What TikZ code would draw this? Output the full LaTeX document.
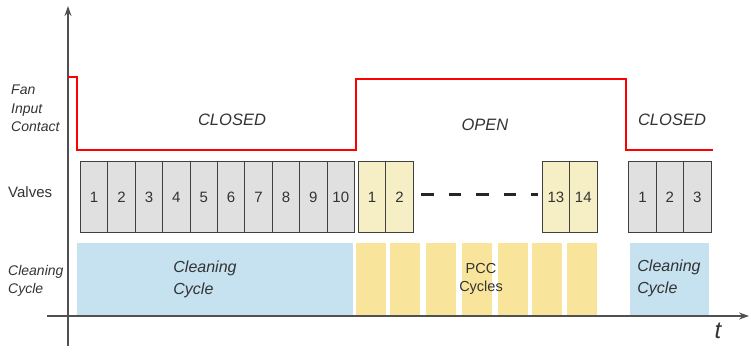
\documentclass[tikz,border=0pt]{standalone}
\usepackage{fontspec}
\setmainfont{Liberation Sans}
\usetikzlibrary{arrows.meta}
\definecolor{axisgray}{HTML}{505050}
\definecolor{textgray}{HTML}{333333}
\definecolor{valvegray}{HTML}{E0E0E0}
\definecolor{valveyellow}{HTML}{F6EFC6}
\definecolor{barblue}{HTML}{C6E2F0}
\definecolor{baryellow}{HTML}{F8E59B}
\definecolor{contactred}{HTML}{FF0000}

\begin{document}
\begin{tikzpicture}[x=1pt,y=-1pt,
  axis/.style={draw=axisgray,line width=1.6pt,-{Stealth[length=10pt,width=7pt]}},
  cell/.style={draw=black!75,line width=0.9pt,minimum width=27.4pt,minimum height=71pt,
    inner sep=0pt,anchor=north west,font=\fontsize{15}{16}\selectfont,text=textgray},
  bar/.style={fill=baryellow,minimum width=30pt,minimum height=72pt,inner sep=0pt,anchor=south west},
  cleanbox/.style={fill=barblue,minimum height=72pt,inner sep=0pt,anchor=south west,
    align=left,font=\fontsize{16}{22}\itshape,text=textgray},
  lbl/.style={inner sep=0pt,text=textgray,align=left,font=\fontsize{14}{18.5}\selectfont},
  state/.style={inner sep=0pt,text=textgray,font=\fontsize{16.5}{20}\itshape}]
\useasboundingbox (0,0) rectangle (749,346);

% cleaning cycle bars
\node[cleanbox,minimum width=276pt] (clean1) at (77,315) {};
\node[lbl,font=\fontsize{16}{22}\itshape] (cleantxt1) at (205,279.5) {Cleaning\\Cycle};
\foreach \x [count=\i] in {356,390,426,462,498,532,567}
  \node[bar] (pcc\i) at (\x,315) {};
\node[lbl,align=center,font=\fontsize{14.5}{18.5}\selectfont] (pcctxt) at (481,279) {PCC\\Cycles};
\node[cleanbox,minimum width=79pt] (clean2) at (629.3,315) {Cleaning\\Cycle};

% axes
\coordinate (yfoot) at (68,346);
\coordinate (ytop) at (68,6);
\coordinate (xfoot) at (47,316);
\coordinate (xtip) at (749,316);
\draw[axis] (yfoot) -- (ytop);
\draw[axis] (xfoot) -- (xtip);
\node[inner sep=0pt,text=textgray,font=\fontsize{24}{24}\itshape] (tlbl) at (718,331) {t};

% fan input contact
\draw[contactred,line width=2.4pt]
  (68,77) -- (77,77) -- (77,150) -- (356,150) -- (356,79)
  -- (626,79) -- (626,150) -- (713,150);
\node[state] (closed1) at (232,120) {CLOSED};
\node[state] (open) at (485,125) {OPEN};
\node[state] (closed2) at (672,120) {CLOSED};

% valves
\foreach \i in {1,...,10}
  \node[cell,fill=valvegray] (g\i) at ({80+27.4*(\i-1)},161) {\i};
\foreach \n/\x in {1/358,2/385.4,13/541.7,14/569.1}
  \node[cell,fill=valveyellow] (y\n) at (\x,161) {\n};
\foreach \i in {1,2,3}
  \node[cell,fill=valvegray] (h\i) at ({628.3+27.4*(\i-1)},161) {\i};
\draw[black!85,line width=2.4pt,dash pattern=on 12.5pt off 15pt,
  shorten <=7.4pt,shorten >=3.7pt]
  ([yshift=2.5pt]y2.east) -- ([yshift=2.5pt]y13.west);

% row labels
\node[lbl,anchor=west,font=\fontsize{14}{18.5}\itshape] (fanlbl) at (11,108.5)
  {Fan\\Input\\Contact};
\node[lbl,anchor=west,font=\fontsize{15}{18.5}\selectfont] (valvelbl) at (8,192) {Valves};
\node[lbl,anchor=west,font=\fontsize{14}{18.5}\itshape] (cyclelbl) at (8,281)
  {Cleaning\\Cycle};
\end{tikzpicture}
\end{document}
